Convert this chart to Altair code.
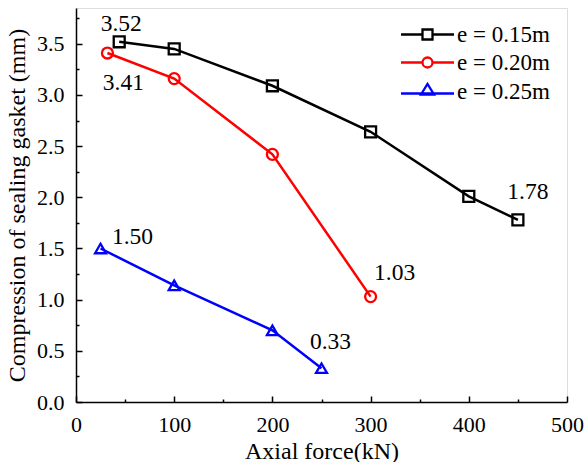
import altair as alt
import pandas as pd

# ---- data ----
series = ["e = 0.15m", "e = 0.20m", "e = 0.25m"]
colors = ["#000000", "#ff0000", "#0000ff"]
shapes = ["square", "circle", "triangle-up"]

force_015 = [44, 100, 200, 300, 400, 450]
comp_015 = [3.52, 3.45, 3.09, 2.64, 2.01, 1.78]
force_020 = [32, 100, 200, 300]
comp_020 = [3.41, 3.16, 2.42, 1.03]
force_025 = [25, 100, 200, 250]
comp_025 = [1.50, 1.14, 0.70, 0.33]

x_ticks = list(range(0, 501, 50))
y_ticks = [i * 0.25 for i in range(16)]

rows = []
for name, xs, ys in zip(series, [force_015, force_020, force_025], [comp_015, comp_020, comp_025]):
    for xv, yv in zip(xs, ys):
        rows.append({"series": name, "force": xv, "comp": yv})
df = pd.DataFrame(rows)

FONT = "'Liberation Serif', 'Times New Roman', Times, serif"

xscale = alt.Scale(domain=[0, 500], nice=False)
yscale = alt.Scale(domain=[0, 3.85], nice=False)

xaxis = alt.Axis(
    values=x_ticks,
    labelExpr="datum.value % 100 == 0 ? format(datum.value, 'd') : ''",
    title="Axial force(kN)",
    grid=False,
    tickSize={"condition": {"test": "datum.value % 100 == 0", "value": -6}, "value": -3},
    tickWidth=1.5,
    tickColor="black",
    domainColor="black",
    domainWidth=1.5,
    labelPadding=18,
    labelFont=FONT,
    labelFontSize=22,
    labelColor="black",
    titleFont=FONT,
    titleFontSize=24,
    titleFontWeight="normal",
    titleColor="black",
    titlePadding=1,
    labelFlush=False,
    labelOverlap=False,
)
yaxis = alt.Axis(
    values=y_ticks,
    labelExpr="datum.value % 0.5 == 0 ? format(datum.value, '.1f') : ''",
    title="Compression of sealing gasket (mm)",
    grid=False,
    tickSize={"condition": {"test": "datum.value % 0.5 == 0", "value": -6}, "value": -3},
    tickWidth=1.5,
    tickColor="black",
    domainColor="black",
    domainWidth=1.5,
    labelPadding=18,
    labelFont=FONT,
    labelFontSize=22,
    labelColor="black",
    titleFont=FONT,
    titleFontSize=24,
    titleFontWeight="normal",
    titleColor="black",
    titlePadding=7,
    labelFlush=False,
    labelOverlap=False,
)

base = alt.Chart(df)
X = alt.X("force:Q", scale=xscale, axis=xaxis)
Y = alt.Y("comp:Q", scale=yscale, axis=yaxis)

lines = base.mark_line(strokeWidth=2.5).encode(
    x=X, y=Y,
    color=alt.Color("series:N", scale=alt.Scale(domain=series, range=colors), legend=None),
)
points = base.mark_point(filled=False, strokeWidth=2.3, opacity=1).encode(
    x=X, y=Y,
    color=alt.Color("series:N", scale=alt.Scale(domain=series, range=colors), legend=None),
    shape=alt.Shape("series:N", scale=alt.Scale(domain=series, range=shapes), legend=None),
    size=alt.Size("series:N", scale=alt.Scale(domain=series, range=[120, 120, 180]), legend=None),
)

legend_paths = [
    "M-2.65,0H-0.5M0.5,0H2.65M-0.5,-0.5H0.5V0.5H-0.5Z",
    "M-2.65,0H-0.5M0.5,0H2.65M-0.5,0A0.5,0.5,0,1,0,0.5,0A0.5,0.5,0,1,0,-0.5,0Z",
    "M-2.65,0.2H2.65M-0.65,0.3L0,-0.75L0.65,0.3Z",
]
leg = alt.Legend(
    title=None, orient="none", legendX=340, legendY=15,
    labelFont=FONT, labelFontSize=23, labelColor="black",
    symbolSize=400, symbolStrokeWidth=2.3, labelOffset=18,
    rowPadding=4, padding=0,
)
legend_layer = base.mark_point(filled=False, strokeWidth=2.3, opacity=1).encode(
    x=X, y=Y,
    color=alt.Color("series:N", scale=alt.Scale(domain=series, range=colors), legend=leg),
    shape=alt.Shape("series:N", scale=alt.Scale(domain=series, range=legend_paths), legend=leg),
).transform_filter("false")

# annotations: (series index, point index, dx, dy)
ann = [(0, 0, 2, -18), (1, 0, 16, 30), (0, 5, 10, -28), (1, 3, 24, -24), (2, 3, 9, -26), (2, 0, 32, -11)]
all_x = [force_015, force_020, force_025]
all_y = [comp_015, comp_020, comp_025]
texts = []
for si, pi, dx, dy in ann:
    d = pd.DataFrame({"force": [all_x[si][pi]], "comp": [all_y[si][pi]], "label": [f"{all_y[si][pi]:.2f}"]})
    texts.append(
        alt.Chart(d).mark_text(font=FONT, fontSize=23.5, color="black", dx=dx, dy=dy, baseline="middle", align="center")
        .encode(x=X, y=Y, text="label:N")
    )

chart = alt.layer(lines, points, legend_layer, *texts).resolve_scale(
    color="independent", shape="independent", size="independent"
).properties(
    width=491, height=394,
    autosize=alt.AutoSizeParams(type="none"),
    padding={"left": 76, "top": 8, "right": 20, "bottom": 60},
).configure_view(stroke="black", strokeWidth=1.5).configure(background="white", font=FONT)

chart.save("out.html", embed_options={"renderer": "svg", "actions": False})
